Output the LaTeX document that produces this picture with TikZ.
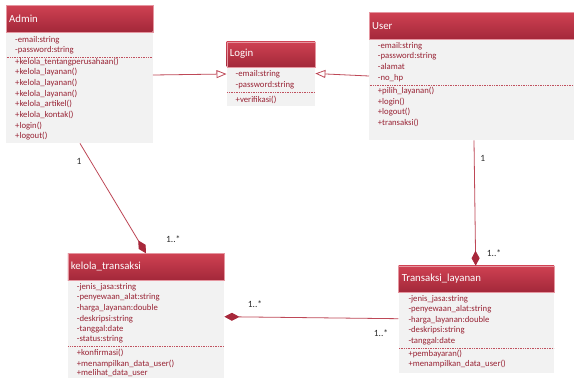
\documentclass[tikz,border=0pt]{standalone}
\usepackage{fontspec}
\setmainfont{Carlito}
\usetikzlibrary{arrows.meta}
\definecolor{hdtop}{HTML}{CF4152}
\definecolor{hdbot}{HTML}{A3283A}
\definecolor{bodyfill}{HTML}{F2F2F2}
\definecolor{txtred}{HTML}{982233}
\definecolor{linered}{HTML}{BE4857}
\definecolor{dmred}{HTML}{A8283B}
\definecolor{sepred}{HTML}{C0505E}
\definecolor{lblgray}{HTML}{2B2B2B}
\begin{document}
\begin{tikzpicture}[x=1pt,y=-1pt,
  hdr/.style={rectangle, top color=hdtop, bottom color=hdbot, draw=hdtop!55!white, line width=0.4pt, inner sep=0, anchor=north west},
  bdy/.style={rectangle, fill=bodyfill, draw=none, inner sep=0, anchor=north west},
  ttl/.style={anchor=west, inner sep=0, text=white, font=\fontsize{10.8}{12}\selectfont},
  itm/.style={anchor=west, inner sep=0, text=txtred, font=\fontsize{8.7}{10}\selectfont, text height=6.2pt, text depth=1.8pt},
  sep/.style={draw=sepred, dash pattern=on 1pt off 0.7pt, line width=0.5pt},
  conn/.style={draw=linered, line width=0.8pt},
  lbl/.style={text=lblgray, font=\fontsize{9.5}{10}\selectfont, inner sep=0},
  gen/.style={-{Triangle[open,length=10pt,width=8pt,fill=white]}},
  comp/.style={-{Diamond[length=15pt,width=8pt,color=dmred]}}
]
\useasboundingbox (0,0) rectangle (574,378);
\fill[white] (0,0) rectangle (574,378);

% ---------- Admin ----------
\node[bdy, minimum width=146.5pt, minimum height=111.5pt] (admB) at (6,31.5) {};
\node[hdr, minimum width=146.5pt, minimum height=26.2pt] (admH) at (6,5.3) {};
\node[ttl] (admT) at (9,18.4) {Admin};
\node[itm] (adm1) at (15,40.3) {-email:string};
\node[itm] (adm2) at (15,50.3) {-password:string};
\draw[sep] ([xshift=0.7pt]admB.west |- 0,57) -- ([xshift=-0.7pt]admB.east |- 0,57);
\node[itm] (adm3) at (15,62) {+kelola\_tentangperusahaan()};
\node[itm] (adm4) at (15,72.7) {+kelola\_layanan()};
\node[itm] (adm5) at (15,83.3) {+kelola\_layanan()};
\node[itm] (adm6) at (15,94) {+kelola\_layanan()};
\node[itm] (adm7) at (15,104.7) {+kelola\_artikel()};
\node[itm] (adm8) at (15,115.3) {+kelola\_kontak()};
\node[itm] (adm9) at (15,126) {+login()};
\node[itm] (adm10) at (15,136.7) {+logout()};

% ---------- Login ----------
\node[bdy, minimum width=88.5pt, minimum height=39pt] (logB) at (226.5,66.5) {};
\node[hdr, minimum width=88.5pt, minimum height=25pt] (logH) at (226.5,41.5) {};
\node[ttl] (logT) at (229.7,54) {Login};
\node[itm] (log1) at (235.5,74.3) {-email:string};
\node[itm] (log2) at (235.5,85) {-password:string};
\draw[sep] ([xshift=0.7pt]logB.west |- 0,92.3) -- ([xshift=-0.7pt]logB.east |- 0,92.3);
\node[itm] (log3) at (235.5,100) {+verifikasi()};

% ---------- User ----------
\node[bdy, minimum width=205pt, minimum height=100.7pt] (usrB) at (369,39.3) {};
\node[hdr, minimum width=205pt, minimum height=27pt] (usrH) at (369,12.3) {};
\node[ttl] (usrT) at (372,25.8) {User};
\node[itm] (usr1) at (377.7,46) {-email:string};
\node[itm] (usr2) at (377.7,56.7) {-password:string};
\node[itm] (usr3) at (377.7,67.3) {-alamat};
\node[itm] (usr4) at (377.7,78) {-no\_hp};
\draw[sep] ([xshift=0.7pt]usrB.west |- 0,85) -- (usrB.east |- 0,85);
\node[itm] (usr5) at (377.7,91.7) {+pilih\_layanan()};
\node[itm] (usr6) at (377.7,102.3) {+login()};
\node[itm] (usr7) at (377.7,112.7) {+logout()};
\node[itm] (usr8) at (377.7,123.3) {+transaksi()};

% ---------- kelola_transaksi ----------
\node[bdy, minimum width=156.3pt, minimum height=98pt] (kelB) at (67.7,280) {};
\node[hdr, minimum width=156.3pt, minimum height=26.7pt] (kelH) at (67.7,253.3) {};
\node[ttl] (kelT) at (70.7,266.7) {kelola\_transaksi};
\node[itm] (kel1) at (76.7,287.3) {-jenis\_jasa:string};
\node[itm] (kel2) at (76.7,297.7) {-penyewaan\_alat:string};
\node[itm] (kel3) at (76.7,308.3) {-harga\_layanan:double};
\node[itm] (kel4) at (76.7,319) {-deskripsi:string};
\node[itm] (kel5) at (76.7,329.3) {-tanggal:date};
\node[itm] (kel6) at (76.7,339.7) {-status:string};
\draw[sep] ([xshift=0.7pt]kelB.west |- 0,346.7) -- ([xshift=-0.7pt]kelB.east |- 0,346.7);
\node[itm] (kel7) at (76.7,353.3) {+konfirmasi()};
\node[itm] (kel8) at (76.7,364) {+menampilkan\_data\_user()};
\node[itm] (kel9) at (76.7,373.7) {+melihat\_data\_user};

% ---------- Transaksi_layanan ----------
\node[bdy, minimum width=155.7pt, minimum height=80.7pt] (trB) at (398.3,291.7) {};
\node[hdr, minimum width=155.7pt, minimum height=26pt] (trH) at (398.3,265.7) {};
\node[ttl] (trT) at (401.7,278.7) {Transaksi\_layanan};
\node[itm] (tr1) at (408.3,299) {-jenis\_jasa:string};
\node[itm] (tr2) at (408.3,309.3) {-penyewaan\_alat:string};
\node[itm] (tr3) at (408.3,320) {-harga\_layanan:double};
\node[itm] (tr4) at (408.3,330.7) {-deskripsi:string};
\node[itm] (tr5) at (408.3,341.3) {-tanggal:date};
\draw[sep] ([xshift=0.7pt]trB.west |- 0,348) -- ([xshift=-0.7pt]trB.east |- 0,348);
\node[itm] (tr6) at (408.3,354) {+pembayaran()};
\node[itm] (tr7) at (408.3,364.3) {+menampilkan\_data\_user()};

% ---------- connectors ----------
\draw[conn,gen] (admB.east |- 0,75) -- (logB.west |- 0,74);
\draw[conn,gen] (usrB.west |- 0,76) -- (logB.east |- 0,73.5);
\draw[conn,comp] (admB.south -| 80,0) -- (kelH.north -| 146,0);
\draw[conn,comp] (usrB.south -| 474,0) -- (trH.north -| 475.7,0);
\draw[conn,comp] (trB.west |- 0,318.7) -- (kelB.east |- 0,316.7);

% ---------- multiplicities ----------
\node[lbl] (m1) at (79,161.7) {1};
\node[lbl] (m2) at (173.3,239.3) {1..*};
\node[lbl] (m3) at (482.7,158) {1};
\node[lbl] (m4) at (494,252.7) {1..*};
\node[lbl] (m5) at (255,304) {1..*};
\node[lbl] (m6) at (381,333.3) {1..*};
\end{tikzpicture}
\end{document}
